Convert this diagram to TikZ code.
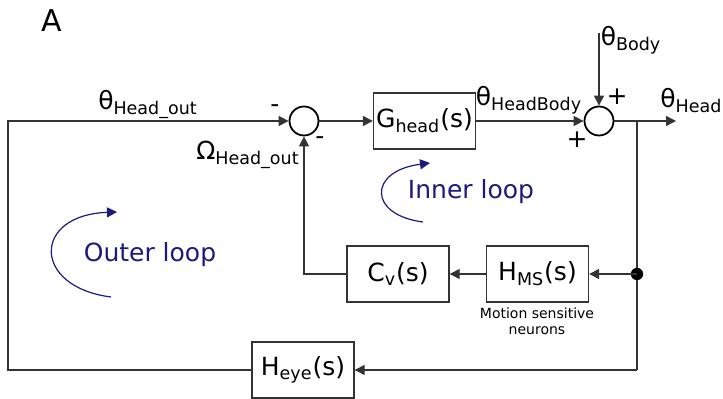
\documentclass[tikz,border=0pt,12pt]{standalone}
\usepackage{fontspec}
\setsansfont{DejaVu Sans}
\usetikzlibrary{arrows.meta}
\definecolor{loopnavy}{HTML}{1A1A80}
\definecolor{wire}{HTML}{333333}

\begin{document}
\begin{tikzpicture}[x=0.5pt,y=-0.5pt,font=\sffamily\fontsize{12.5}{15}\selectfont,
  block/.style={draw=wire,line width=0.7pt,minimum width=51pt,minimum height=28pt,inner sep=0pt},
  sumnode/.style={draw=black,line width=0.9pt,circle,minimum size=14.5pt,inner sep=0pt},
  sig/.style={-{Triangle[length=5pt,width=5pt]},draw=wire,line width=0.65pt},
  loopnote/.style={-{Triangle[length=5pt,width=5pt]},loopnavy,line width=0.6pt}]
\useasboundingbox (0,0) rectangle (723,399);
\node (lblA) at (52,21) {\fontsize{15}{18}\selectfont A};
% blocks and summing points
\node[sumnode] (sumA) at (304,121) {};
\node[block] (ghead) at (424.5,121) {G\textsubscript{head}(s)};
\node[sumnode] (sumB) at (599,121) {};
\node[block] (hms) at (537.5,274) {H\textsubscript{MS}(s)};
\node[block] (cv) at (398,274) {C\textsubscript{v}(s)};
\node[block] (heye) at (303,370) {H\textsubscript{eye}(s)};
\coordinate (bodyin) at (599,33);
\coordinate (headout) at (676,121);
\coordinate (branch) at (637,121);
\coordinate (tap) at (637,274);
\coordinate (bottomright) at (637,370);
\coordinate (leftlow) at (8,370);
\coordinate (lefthigh) at (8,121);
\coordinate (cvcorner) at (304,274);
% signal paths
\draw[sig] (sumA) -- (ghead);
\draw[sig] (ghead) -- (sumB);
\draw[sig] (bodyin) -- (sumB);
\draw[sig] (sumB) -- (headout);
\draw[draw=wire,line width=0.65pt] (branch) -- (bottomright);
\fill[black] (tap) circle (3.1pt);
\draw[sig] (tap) -- (hms);
\draw[sig] (hms) -- (cv);
\draw[sig] (cv) -- (cvcorner) -- (sumA);
\draw[sig] (bottomright) -- (heye);
\draw[sig] (heye) -- (leftlow) -- (lefthigh) -- (sumA);
% signal labels and signs
\node (thout) at (148,104) {θ\textsubscript{Head\_out}};
\node (minusA) at (275,109) {-};
\node[anchor=east] (omout) at (308,155) {Ω\textsubscript{Head\_out}};
\node (minusB) at (320,141) {-};
\node (thheadbody) at (529,100) {θ\textsubscript{HeadBody}};
\node (plusA) at (617,97) {+};
\node (plusB) at (577,140) {+};
\node (thbody) at (631,40) {θ\textsubscript{Body}};
\node[anchor=west] (thhead) at (652,101) {θ\textsubscript{Head}};
\node[font=\sffamily\fontsize{7}{8}\selectfont,align=center] (msn) at (537,321) {Motion sensitive\\neurons};
% loop notes
\node[text=loopnavy] (innerlbl) at (471,192) {Inner loop};
\node[text=loopnavy] (outerlbl) at (150,255) {Outer loop};
\draw[loopnote] (423,222) .. controls (368,215) and (368,171) .. (430,163);
\draw[loopnote] (111,297) .. controls (32,287) and (32,215) .. (117,212);
\end{tikzpicture}
\end{document}
